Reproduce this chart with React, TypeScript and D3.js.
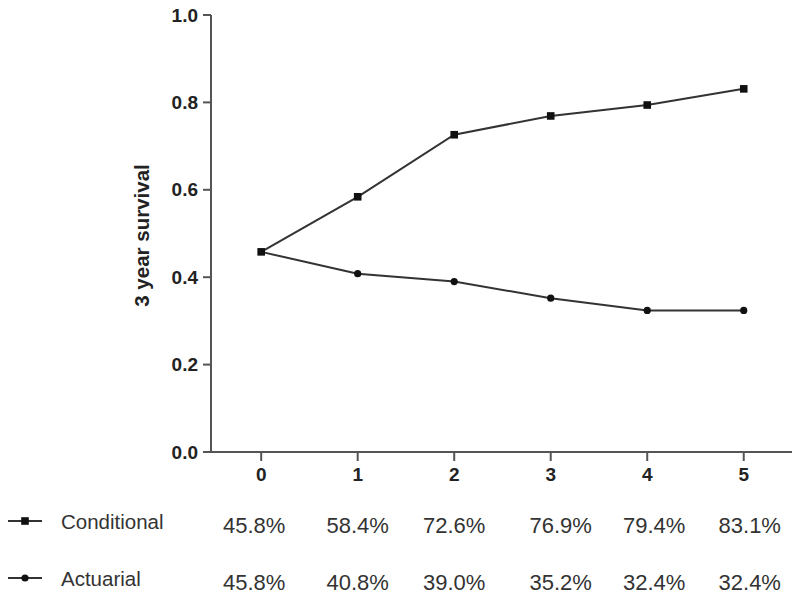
import React from "react";
import * as d3 from "d3";

const years = [0, 1, 2, 3, 4, 5];
const conditional = [0.458, 0.584, 0.726, 0.769, 0.794, 0.831];
const actuarial = [0.458, 0.408, 0.39, 0.352, 0.324, 0.324];
const conditionalLabels = ["45.8%", "58.4%", "72.6%", "76.9%", "79.4%", "83.1%"];
const actuarialLabels = ["45.8%", "40.8%", "39.0%", "35.2%", "32.4%", "32.4%"];
const yTicks = [0, 0.2, 0.4, 0.6, 0.8, 1.0];
const seriesNames = ["Conditional", "Actuarial"];

const W = 800;
const H = 601;
const labelShift = [-7, 0, 0, 10, 7, 6];

export default function App() {
  const x = d3.scaleLinear().domain([-0.52, 5.5]).range([211, 792]);
  const y = d3.scaleLinear().domain([0, 1]).range([452, 15]);
  const line = d3
    .line<number>()
    .x((_, i) => x(years[i]))
    .y((d) => y(d));
  const lineColor = "#333";
  const axisColor = "#555";
  const font = "Liberation Sans, Arial, sans-serif";

  return (
    <svg
      width={W}
      height={H}
      style={{ position: "absolute", left: 0, top: 0, background: "#fff" }}
      fontFamily={font}
    >
      {/* y axis */}
      <line x1={x(-0.52)} x2={x(-0.52)} y1={y(1)} y2={y(0)} stroke={axisColor} strokeWidth={2} />
      {yTicks.map((t) => (
        <g key={t}>
          <line x1={x(-0.52) - 8} x2={x(-0.52)} y1={y(t)} y2={y(t)} stroke={axisColor} strokeWidth={2} />
          <text
            x={x(-0.52) - 13}
            y={y(t)}
            dy="0.35em"
            textAnchor="end"
            fontSize={19}
            fontWeight="bold"
            fill="#222"
          >
            {t.toFixed(1)}
          </text>
        </g>
      ))}
      <text
        transform={`translate(149, ${(y(0) + y(1)) / 2 + 2}) rotate(-90)`}
        textAnchor="middle"
        fontSize={20.5}
        fontWeight="bold"
        fill="#222"
      >
        3 year survival
      </text>
      {/* x axis */}
      <line x1={x(-0.52) - 1} x2={x(5.5)} y1={y(0)} y2={y(0)} stroke={axisColor} strokeWidth={2} />
      {years.map((t) => (
        <g key={t}>
          <line x1={x(t)} x2={x(t)} y1={y(0)} y2={y(0) + 9} stroke={axisColor} strokeWidth={2} />
          <text x={x(t)} y={y(0) + 29} textAnchor="middle" fontSize={19} fontWeight="bold" fill="#222">
            {t}
          </text>
        </g>
      ))}
      {/* lines */}
      <path d={line(actuarial) || ""} fill="none" stroke={lineColor} strokeWidth={2} />
      <path d={line(conditional) || ""} fill="none" stroke={lineColor} strokeWidth={2} />
      {actuarial.map((v, i) =>
        i === 0 ? null : <circle key={"a" + i} cx={x(years[i])} cy={y(v)} r={3.6} fill="#111" />
      )}
      {conditional.map((v, i) => (
        <rect key={"c" + i} x={x(years[i]) - 3.8} y={y(v) - 3.8} width={7.6} height={7.6} fill="#111" />
      ))}
      {/* table / legend */}
      {seriesNames.map((name, r) => {
        const rowY = r === 0 ? 521 : 578;
        const labels = r === 0 ? conditionalLabels : actuarialLabels;
        return (
          <g key={name}>
            <line x1={8} x2={42} y1={rowY} y2={rowY} stroke={lineColor} strokeWidth={2} />
            {r === 0 ? (
              <rect x={25 - 3.8} y={rowY - 3.8} width={7.6} height={7.6} fill="#111" />
            ) : (
              <circle cx={25} cy={rowY} r={3.6} fill="#111" />
            )}
            <text x={61} y={rowY + 7.5} fontSize={20.5} fill="#333">
              {name}
            </text>
            {labels.map((l, i) => (
              <text
                key={i}
                x={x(years[i]) + labelShift[i]}
                y={rowY + 12}
                textAnchor="middle"
                fontSize={22}
                fill="#333"
              >
                {l}
              </text>
            ))}
          </g>
        );
      })}
    </svg>
  );
}
